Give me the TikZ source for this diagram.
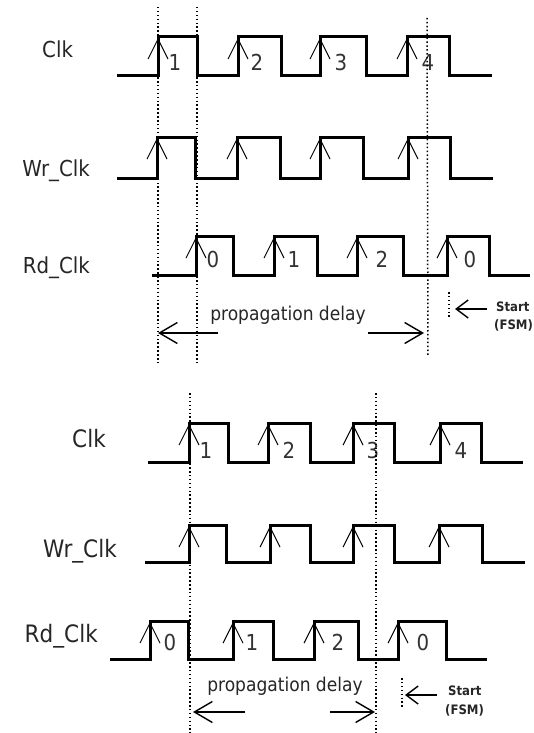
\documentclass[tikz,border=0pt]{standalone}
\usepackage{fontspec}
\setmainfont{DejaVu Sans Condensed}
\usepackage{tikz}
\usetikzlibrary{arrows.meta, positioning, calc}

\begin{document}
\begin{tikzpicture}[
  x=1pt, y=-1pt,
  wave/.style={line width=3pt},
  edgearr/.style={-{Straight Barb[length=20pt, width=20pt]}, line width=1pt},
  guide/.style={line width=1.5pt, dash pattern=on 1.5pt off 2.4pt},
  delayarr/.style={-{Straight Barb[length=18pt, width=21pt]}, line width=1.4pt},
  startarr/.style={-{Straight Barb[length=12pt, width=18pt]}, line width=1.4pt},
  sig/.style={font=\fontsize{22}{24}\selectfont, text=black!85, inner sep=0pt},
  sigB/.style={font=\fontsize{24}{26}\selectfont, text=black!85, inner sep=0pt},
  num/.style={font=\fontsize{22}{24}\selectfont, text=black!80, inner sep=0pt, anchor=base},
  op/.style={font=\fontsize{19}{21}\selectfont, text=black!85, inner sep=0pt, anchor=base},
  fsm/.style={font=\fontsize{13}{14}\selectfont\bfseries, text=black!85, inner sep=0pt, anchor=base west}
]
  \useasboundingbox (0,0) rectangle (534,733);

  % Upper diagram: Clk
  \node[sig, anchor=base west] (clk1) at (42,58) {Clk};
  \draw[wave] (117,76) \foreach \r/\f in {158/197, 238/281, 320/366, 407/449} { -| (\r,37) -| (\f,76) } -- (492,76);
  \foreach \r in {158, 238, 320, 407} \draw[edgearr] (\r,76) -- (\r,38);
  \foreach \x/\n in {175/1, 257/2, 341/3, 428/4} \node[num] (c1n\n) at (\x,71) {\n};

  % Wr_Clk
  \node[sig, anchor=base east] (wr1) at (90,176) {Wr\_Clk};
  \draw[wave] (117,178) \foreach \r/\f in {157/195, 237/280, 320/363, 408/450} { -| (\r,137) -| (\f,178) } -- (493,178);
  \foreach \r in {157, 237, 320, 408} \draw[edgearr] (\r,178) -- (\r,138);

  % Rd_Clk
  \node[sig, anchor=base east] (rd1) at (90,273) {Rd\_Clk};
  \draw[wave] (152,275) \foreach \r/\f in {196/233, 274/317, 357/403, 447/489} { -| (\r,236) -| (\f,275) } -- (530,275);
  \foreach \r in {196, 274, 357, 447} \draw[edgearr] (\r,275) -- (\r,237);
  \foreach \x/\n [count=\i] in {213/0, 294/1, 382/2, 470/0} \node[num] (r1n\i) at (\x,267) {\n};

  % guide lines and delay
  \draw[guide] (158,7) -- (158,364);
  \draw[guide] (197,7) -- (197,362);
  \draw[guide] (427,18) -- (428,357);
  \node[op] (pd1) at (288,320) {propagation delay};
  \coordinate (pd1a) at (218,333);
  \coordinate (pd1b) at (368,333);
  \draw[delayarr] (pd1a) -- (158,333);
  \draw[delayarr] (pd1b) -- (424,333);
  \draw[guide] (449,292) -- (449,318);
  \draw[startarr] (487,309) -- (455,309);
  \node[fsm] (st1) at (496,311) {Start};
  \node[fsm] (fsm1) at (494,329) {(FSM)};

  % Lower diagram: Clk
  \node[sigB, anchor=base west] (clk2) at (72,447) {Clk};
  \draw[wave] (148,462) \foreach \r/\f in {189/228, 268/310, 353/394, 440/481} { -| (\r,423) -| (\f,462) } -- (523,462);
  \foreach \r in {189, 268, 353, 440} \draw[edgearr] (\r,462) -- (\r,424);
  \foreach \x/\n in {206/1, 289/2, 373/3, 461/4} \node[num] (c2n\n) at (\x,458) {\n};

  % Wr_Clk
  \node[sigB, anchor=base west] (wr2) at (43,557) {Wr\_Clk};
  \draw[wave] (145,562) \foreach \r/\f in {189/226, 270/310, 353/394, 439/482} { -| (\r,525) -| (\f,562) } -- (525,562);
  \foreach \r in {189, 270, 353, 439} \draw[edgearr] (\r,562) -- (\r,526);

  % Rd_Clk
  \node[sigB, anchor=base east] (rd2) at (98,642) {Rd\_Clk};
  \draw[wave] (110,659) \foreach \r/\f in {150/188, 233/273, 314/358, 398/446} { -| (\r,621) -| (\f,659) } -- (487,659);
  \foreach \r in {150, 233, 314, 398} \draw[edgearr] (\r,659) -- (\r,622);
  \foreach \x/\n [count=\i] in {170/0, 252/1, 338/2, 423/0} \node[num] (r2n\i) at (\x,650) {\n};

  % guide lines and delay
  \draw[guide] (190,393) -- (190,733);
  \draw[guide] (376,393) -- (376,733);
  \node[op] (pd2) at (285,691) {propagation delay};
  \coordinate (pd2a) at (245,712);
  \coordinate (pd2b) at (330,712);
  \draw[delayarr] (pd2a) -- (193,712);
  \draw[delayarr] (pd2b) -- (375,712);
  \draw[guide] (402,678) -- (402,707);
  \draw[startarr] (437,695) -- (405,695);
  \node[fsm] (st2) at (448,695) {Start};
  \node[fsm] (fsm2) at (445,714) {(FSM)};
\end{tikzpicture}
\end{document}
